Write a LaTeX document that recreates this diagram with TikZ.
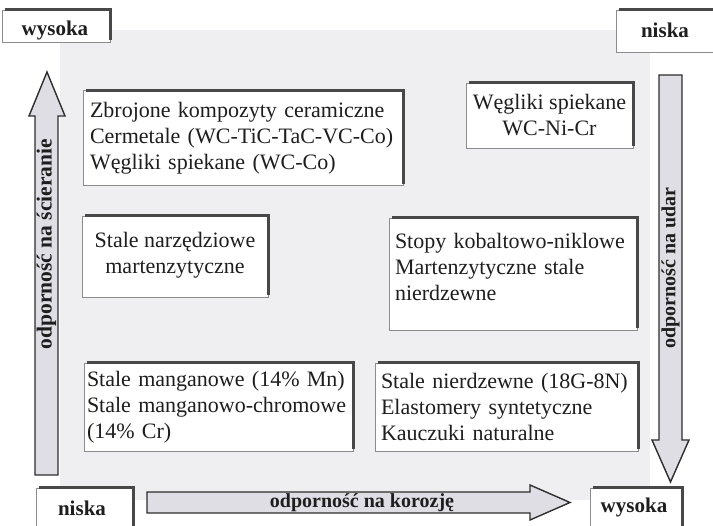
\documentclass[tikz,border=0pt]{standalone}
\usepackage{fontspec}
\setmainfont{Liberation Serif}
\definecolor{bggray}{RGB}{239,239,241}
\definecolor{arrowfill}{RGB}{222,222,228}
\definecolor{arrowline}{RGB}{45,45,45}
\definecolor{edgedark}{RGB}{72,72,72}
\definecolor{boxthin}{RGB}{140,140,140}
\definecolor{txt}{RGB}{30,30,30}
\tikzset{
  matbox/.style={draw=boxthin, line width=0.7pt, fill=white, inner ysep=0pt,
    text=txt, font=\fontsize{22}{26}\selectfont},
  lblbox/.style={draw=boxthin, line width=0.7pt, fill=white, inner sep=0pt},
  lbltext/.style={text=txt, font=\fontsize{21}{25}\selectfont\bfseries, inner sep=0pt},
  thickedge/.style={draw=edgedark, line width=3pt},
  bigarrow/.style={draw=arrowline, line width=1.4pt, fill=arrowfill, line join=miter},
  arrowlabel/.style={text=txt, font=\fontsize{20}{24}\selectfont\bfseries, inner sep=0pt}
}
\begin{document}
\begin{tikzpicture}[x=1pt,y=-1pt]
\useasboundingbox (0,0) rectangle (713,526);
\fill[white] (0,0) rectangle (713,526);
\fill[bggray] (60,30) rectangle (650,500);

% material boxes
\node[matbox, minimum width=320, minimum height=95, text width=306, inner xsep=7, align=left]
  (b1) at (243,138) {Zbrojone kompozyty ceramiczne\\Cermetale (WC-TiC-TaC-VC-Co)\\Węgliki spiekane (WC-Co)};
\node[matbox, minimum width=167, minimum height=65, inner xsep=2, align=center]
  (b2) at (549.5,115.5) {Węgliki spiekane\\WC-Ni-Cr};
\node[matbox, minimum width=186, minimum height=81, inner xsep=2, align=center]
  (b3) at (175,256.5) {Stale narzędziowe\\martenzytyczne\rule[-8pt]{0pt}{0pt}};
\node[matbox, minimum width=248, minimum height=112, text width=236, inner xsep=6, align=left]
  (b4) at (513,274) {Stopy kobaltowo-niklowe\\Martenzytyczne stale\\nierdzewne\rule[-14pt]{0pt}{0pt}};
\node[matbox, minimum width=269, minimum height=88, text width=263, inner xsep=3, align=left]
  (b5) at (218.5,407) {Stale manganowe (14\% Mn)\\Stale manganowo-chromowe\\(14\% Cr)};
\node[matbox, minimum width=263, minimum height=88, text width=251, inner xsep=6, align=left]
  (b6) at (506.5,407) {Stale nierdzewne (18G-8N)\\Elastomery syntetyczne\\Kauczuki naturalne};

% level label boxes
\node[lblbox, minimum width=108, minimum height=32] (l1) at (56,26) {};
\node[lbltext, anchor=base] (t1) at (55,36) {wysoka};
\node[lblbox, minimum width=100, minimum height=42] (l2) at (666,31) {};
\node[lbltext, anchor=base] (t2) at (665,38) {niska};
\node[lblbox, minimum width=97, minimum height=44] (l3) at (84.5,510) {};
\node[lbltext, anchor=base] (t3) at (82,516) {niska};
\node[lblbox, minimum width=92, minimum height=44] (l4) at (636,510) {};
\node[lbltext, anchor=base] (t4) at (634,513) {wysoka};

\foreach \n in {b1,b2,b3,b4,b5,b6,l1,l2,l3,l4}{
  \draw[thickedge] ([xshift=3pt]\n.north west) -- (\n.north east) -- ([yshift=2pt]\n.south east);
}

% big arrows
\draw[bigarrow] (35,475) -- (35,116) -- (29,116) -- (47,72) -- (65,116) -- (58,116) -- (58,475) -- cycle;
\node[arrowlabel, font=\fontsize{21.5}{24}\selectfont\bfseries, rotate=90] (la) at (46.5,244) {odporność na ścieranie};

\draw[bigarrow] (659,75) -- (659,440) -- (652,440) -- (670.5,482) -- (689,440) -- (682,440) -- (682,75) -- cycle;
\node[arrowlabel, rotate=90] (ra) at (670.5,268) {odporność na udar};

\draw[bigarrow] (147,492) -- (530,492) -- (530,485) -- (570,502.5) -- (530,520) -- (530,513) -- (147,513) -- cycle;
\node[arrowlabel] (ha) at (362,502.5) {odporność na korozję};
\end{tikzpicture}
\end{document}
